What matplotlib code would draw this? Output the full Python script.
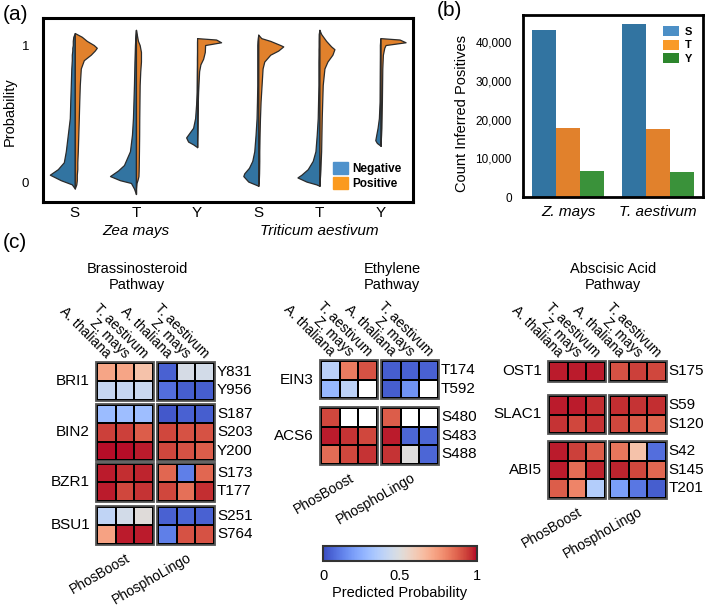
import numpy as np
import matplotlib
matplotlib.use('Agg')
import matplotlib.pyplot as plt
from matplotlib.patches import Patch, Rectangle
from matplotlib.ticker import FuncFormatter
from matplotlib.colors import Normalize
from matplotlib.cm import ScalarMappable

plt.rcParams['font.family'] = ['Liberation Sans', 'DejaVu Sans']
plt.rcParams['font.size'] = 10.5

# ---------------- Panel (a) data: split violins ----------------
violin_ticks = ['S', 'T', 'Y', 'S', 'T', 'Y']
species_a = ['Zea mays', 'Triticum aestivum']
series_a = ['Negative', 'Positive']
# probability levels and half-widths (Negative left / Positive right)
v1_y   = [-0.04, -0.01, 0.02, 0.06, 0.10, 0.15, 0.23, 0.35, 0.47, 0.60, 0.71, 0.83, 0.89, 0.93, 0.96, 0.98, 1.00, 1.03, 1.06, 1.087]
v1_neg = [0, 3, 14, 25, 17, 11, 9, 7, 5, 4.5, 4, 3.5, 3, 3, 2.5, 2.5, 2, 2, 1.5, 0]
v1_pos = [0, 1.5, 2, 2, 2.5, 2.5, 3, 3.5, 4, 4.5, 5, 6, 9, 16, 20, 22, 19, 12, 7, 0]
v2_y   = [-0.08, -0.04, 0.0, 0.02, 0.05, 0.09, 0.13, 0.23, 0.35, 0.47, 0.71, 0.81, 0.88, 0.95, 1.0, 1.03, 1.07, 1.11]
v2_neg = [0, 2, 5, 16, 26, 18, 12, 6, 4, 3, 2, 1.7, 1.5, 1.2, 1, 0.8, 0.5, 0]
v2_pos = [0, 0, 0.5, 1.5, 2.5, 2.7, 2.8, 3, 3.2, 3.3, 3.7, 4.3, 5, 5, 3.7, 2, 1, 0]
v3_y   = [0.26, 0.28, 0.30, 0.33, 0.36, 0.40, 0.47, 0.57, 0.66, 0.81, 0.86, 0.90, 0.95, 1.0, 1.02, 1.04, 1.05]
v3_neg = [0, 4, 9, 11, 8, 4, 2, 1, 0.5, 0.3, 0.2, 0.2, 0.1, 0.1, 0.1, 0, 0]
v3_pos = [0, 0, 0, 0.1, 0.2, 0.3, 0.4, 0.6, 1, 2, 3.3, 6, 7.7, 8, 24, 19, 0]
v4_y   = [-0.02, -0.01, 0.01, 0.05, 0.07, 0.11, 0.16, 0.23, 0.35, 0.47, 0.59, 0.71, 0.83, 0.88, 0.93, 0.96, 0.99, 1.0, 1.03, 1.05, 1.075]
v4_neg = [0, 3.3, 10, 15, 14, 9.3, 6, 4, 2.7, 1.7, 1.3, 1, 1, 1, 1, 1, 1, 1, 0.8, 0.5, 0]
v4_pos = [0, 0, 0.5, 0.7, 0.8, 0.9, 1, 1, 1.3, 1.7, 2.3, 3.3, 4.3, 6, 12, 20, 25, 22, 12, 3, 0]
v5_y   = [-0.02, -0.01, 0.01, 0.04, 0.06, 0.10, 0.16, 0.23, 0.35, 0.47, 0.71, 0.83, 0.88, 0.93, 0.97, 0.99, 1.03, 1.08, 1.11]
v5_neg = [0, 3.3, 13, 22, 18, 11.7, 6.7, 4, 2.7, 1.7, 1, 1, 1, 0.9, 0.9, 0.8, 0.8, 0.7, 0]
v5_pos = [0, 0, 0.3, 0.5, 0.7, 1, 1.3, 1.7, 2, 2.3, 3.3, 5, 8, 13, 15, 11.7, 6.7, 1.7, 0]
v6_y   = [0.27, 0.29, 0.31, 0.35, 0.40, 0.47, 0.59, 0.83, 0.93, 0.98, 1.0, 1.02, 1.04, 1.05]
v6_neg = [0, 3.7, 5.3, 4.3, 3, 1.7, 1, 0.8, 0.7, 0.7, 0.7, 0.5, 0.3, 0]
v6_pos = [0, 0, 0.2, 0.5, 0.8, 1, 1.3, 1.7, 2.3, 3.7, 5, 25, 19, 0]
viol_y = [v1_y, v2_y, v3_y, v4_y, v5_y, v6_y]
viol_neg = [v1_neg, v2_neg, v3_neg, v4_neg, v5_neg, v6_neg]
viol_pos = [v1_pos, v2_pos, v3_pos, v4_pos, v5_pos, v6_pos]

# ---------------- Panel (b) data ----------------
species_b = ['Z. mays', 'T. aestivum']
residues = ['S', 'T', 'Y']
counts_S = [43100, 44600]
counts_T = [17900, 17500]
counts_Y = [6800, 6500]

# ---------------- Panel (c) data ----------------
col_labels = ['A. thaliana', 'Z. mays', 'T. aestivum']
method_labels = ['PhosBoost', 'PhosphoLingo']
nan = np.nan

brass_title = 'Brassinosteroid\nPathway'
brass_genes = ['BRI1', 'BIN2', 'BZR1', 'BSU1']
brass_sites = [['Y831', 'Y956'], ['S187', 'S203', 'Y200'], ['S173', 'T177'], ['S251', 'S764']]
brass_pb = [[[0.72, 0.72, 0.63], [0.42, 0.42, 0.43]],
            [[0.29, 0.30, 0.30], [0.93, 0.93, 0.88], [0.99, 0.99, 0.98]],
            [[0.98, 0.96, 0.97], [0.98, 0.92, 0.95]],
            [[0.40, 0.46, 0.51], [0.73, 0.98, 0.98]]]
brass_pl = [[[0.05, 0.47, 0.46], [0.08, 0.04, 0.04]],
            [[0.03, 0.05, 0.04], [0.92, 0.90, 0.90], [0.92, 0.90, 0.88]],
            [[0.86, 0.12, 0.86], [0.92, 0.84, 0.96]],
            [[0.05, 0.06, 0.05], [0.12, 0.90, 0.90]]]

eth_title = 'Ethylene\nPathway'
eth_genes = ['EIN3', 'ACS6']
eth_sites = [['T174', 'T592'], ['S480', 'S483', 'S488']]
eth_pb = [[[0.38, 0.82, 0.90], [0.28, 0.39, nan]],
          [[0.92, nan, nan], [0.98, 0.95, 0.92], [0.85, 0.92, 0.95]]]
eth_pl = [[[0.04, 0.05, 0.05], [0.04, 0.17, nan]],
          [[0.88, nan, nan], [0.98, 0.06, 0.06], [0.95, 0.50, 0.06]]]

aba_title = 'Abscisic Acid\nPathway'
aba_genes = ['OST1', 'SLAC1', 'ABI5']
aba_sites = [['S175'], ['S59', 'S120'], ['S42', 'S145', 'T201']]
aba_pb = [[[0.98, 0.98, 0.98]],
          [[0.98, 0.98, 0.96], [0.95, 0.92, 0.95]],
          [[0.98, 0.93, 0.88], [0.98, 0.85, 0.97], [0.88, 0.80, 0.36]]]
aba_pl = [[[0.90, 0.93, 0.92]],
          [[0.96, 0.95, 0.96], [0.92, 0.89, 0.87]],
          [[0.83, 0.63, 0.08], [0.97, 0.92, 0.86], [0.20, 0.10, 0.04]]]

# ---------------- Figure ----------------
W, H = 709, 608
fig = plt.figure(figsize=(W / 100, H / 100), dpi=100)

# pixel-space overlay for panel (c) and free texts
axc = fig.add_axes([0, 0, 1, 1], facecolor='none')
axc.set_xlim(0, W)
axc.set_ylim(H, 0)
axc.axis('off')


def fig_axes(l, t, r, b):
    return fig.add_axes([l / W, 1 - b / H, (r - l) / W, (b - t) / H])


# ---- Panel (a) ----
c_neg, c_pos = '#3274a1', '#e1812c'
axa = fig_axes(43, 18, 413, 202)
px_to_cat = 1 / 61.2
for i in range(6):
    y = np.array(viol_y[i])
    n = np.array(viol_neg[i]) * px_to_cat
    p = np.array(viol_pos[i]) * px_to_cat
    axa.fill_betweenx(y, i - n, i, facecolor=c_neg, edgecolor='#2b2b2b', linewidth=0.9)
    axa.fill_betweenx(y, i, i + p, facecolor=c_pos, edgecolor='#2b2b2b', linewidth=0.9)
axa.set_xlim(-0.52, 5.53)
axa.set_ylim(-0.138, 1.196)
axa.set_xticks(range(6))
axa.set_xticklabels(violin_ticks, fontsize=11)
axa.set_yticks([0, 1])
axa.set_yticklabels(['0', '1'], fontsize=9.5)
axa.tick_params(axis='x', length=0, pad=3)
axa.tick_params(axis='y', length=0, pad=10)
for s in axa.spines.values():
    s.set_linewidth(2.2)
    s.set_color('black')
for k, sp in enumerate(species_a):
    axa.text(1 + 3 * k, -0.155, sp, transform=axa.get_xaxis_transform(),
             ha='center', va='center', style='italic', fontsize=11)
axa.legend(handles=[Patch(facecolor='#4f92cc', edgecolor='#4f92cc', label=series_a[0]),
                    Patch(facecolor='#fb9a1e', edgecolor='#fb9a1e', label=series_a[1])],
           loc='lower right', frameon=False, prop={'weight': 'bold', 'size': 8.5},
           handlelength=1.3, handleheight=1.2, handletextpad=0.3, labelspacing=0.15,
           borderaxespad=0.6)
axc.text(10, 112, 'Probability', rotation=90, ha='center', va='center', fontsize=10.5)

# ---- Panel (b) ----
axb = fig_axes(523, 15, 703, 197)
bar_cols = ['#3274a1', '#e1812c', '#3a923a']
leg_cols = ['#4c8fc6', '#f99a28', '#2d862d']
bw = 0.8 / 3
xg = np.arange(len(species_b))
for j, vals in enumerate([counts_S, counts_T, counts_Y]):
    axb.bar(xg + (j - 1) * bw, vals, width=bw, color=bar_cols[j], edgecolor='none')
axb.set_xlim(-0.5, 1.5)
axb.set_ylim(0, 47000)
axb.set_yticks([0, 10000, 20000, 30000, 40000])
axb.yaxis.set_major_formatter(FuncFormatter(lambda v, pos: f'{int(v):,}'))
axb.set_xticks(xg)
axb.set_xticklabels(species_b, style='italic', fontsize=11)
axb.tick_params(axis='y', length=0, pad=8, labelsize=8.5)
axb.tick_params(axis='x', length=0, pad=6)
for s in axb.spines.values():
    s.set_linewidth(2.0)
    s.set_color('black')
axb.legend(handles=[Patch(facecolor=leg_cols[j], label=residues[j]) for j in range(3)],
           loc='upper right', frameon=False, prop={'weight': 'bold', 'size': 8},
           handlelength=1.4, handleheight=1.0, handletextpad=0.5, labelspacing=0.25,
           borderaxespad=0.6)
axc.text(462, 113, 'Count Inferred Positives', rotation=90, ha='center', va='center', fontsize=10.5)

# ---- Panel labels ----
axc.text(3, 15, '(a)', ha='left', va='center', fontsize=15)
axc.text(437, 10, '(b)', ha='left', va='center', fontsize=15)
axc.text(3, 243, '(c)', ha='left', va='center', fontsize=15)

# ---- Panel (c) heatmaps ----
cmap = plt.get_cmap('coolwarm').copy()
cmap.set_bad('white')

layouts = [
    dict(title=brass_title, tx=137, genes=brass_genes, sites=brass_sites, pb=brass_pb, pl=brass_pl,
         x0=(97, 158), cw=18.7, rh=18.3, y0=[363, 405, 464, 507]),
    dict(title=eth_title, tx=392, genes=eth_genes, sites=eth_sites, pb=eth_pb, pl=eth_pl,
         x0=(321, 382), cw=18.7, rh=18.5, y0=[361, 408]),
    dict(title=aba_title, tx=613, genes=aba_genes, sites=aba_sites, pb=aba_pb, pl=aba_pl,
         x0=(549, 610), cw=18.5, rh=18.5, y0=[362, 396, 442]),
]

for L in layouts:
    cw, rh = L['cw'], L['rh']
    axc.text(L['tx'], 277, L['title'], ha='center', va='center', fontsize=10.5, linespacing=1.25)
    for g, gene in enumerate(L['genes']):
        y0 = L['y0'][g]
        nrows = len(L['sites'][g])
        for m, mats in enumerate([L['pb'], L['pl']]):
            x0 = L['x0'][m]
            X = x0 + cw * np.arange(4)
            Y = y0 + rh * np.arange(nrows + 1)
            vals = np.ma.masked_invalid(np.array(mats[g], dtype=float))
            axc.pcolormesh(X, Y, vals, cmap=cmap, vmin=0, vmax=1,
                           edgecolors='black', linewidth=1.2)
            axc.add_patch(Rectangle((x0 - 1, y0 - 1), 3 * cw + 2, nrows * rh + 2,
                                    fill=False, edgecolor='#555555', linewidth=1.3))
        axc.text(L['x0'][0] - 7, y0 + nrows * rh / 2, gene, ha='right', va='center', fontsize=11)
        xr = L['x0'][1] + 3 * cw + 3
        for r, site in enumerate(L['sites'][g]):
            axc.text(xr, y0 + rh * (r + 0.5), site, ha='left', va='center', fontsize=11)
    # column labels
    top = L['y0'][0]
    for m in range(2):
        for j, lab in enumerate(col_labels):
            cx = L['x0'][m] + cw * (j + 0.5)
            axc.text(cx + 2, top - 7, lab, rotation=-45, ha='right', va='center',
                     rotation_mode='anchor', fontsize=10)
    # method labels
    gl = len(L['genes']) - 1
    bottom = L['y0'][gl] + len(L['sites'][gl]) * rh
    for m, lab in enumerate(method_labels):
        cx = L['x0'][m] + 1.5 * cw
        axc.text(cx + 4, bottom + 13, lab, rotation=30, ha='right', va='center',
                 rotation_mode='anchor', fontsize=10)

# ---- colorbar ----
cax = fig_axes(323, 546, 477, 561)
sm = ScalarMappable(norm=Normalize(0, 1), cmap='coolwarm')
cb = fig.colorbar(sm, cax=cax, orientation='horizontal', ticks=[0, 0.5, 1])
cb.ax.set_xticklabels(['0', '0.5', '1'])
cb.ax.tick_params(length=0, pad=6, labelsize=10.5)
cb.set_label('Predicted Probability', fontsize=10.5, labelpad=2)
cb.outline.set_linewidth(1.5)
cb.outline.set_edgecolor('#333333')

fig.savefig('out.png', dpi=100)
